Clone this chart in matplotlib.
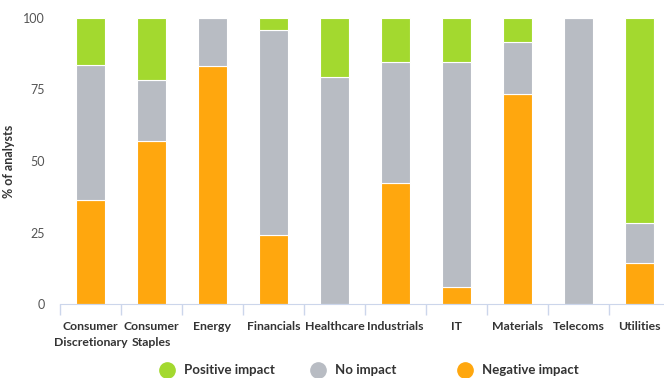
import numpy as np
import matplotlib.pyplot as plt
from matplotlib.lines import Line2D

# sector data (% of analysts)
sectors = ['Consumer\nDiscretionary', 'Consumer\nStaples', 'Energy', 'Financials', 'Healthcare',
           'Industrials', 'IT', 'Materials', 'Telecoms', 'Utilities']
negative = [36.4, 57.1, 83.3, 24.0, 0.0, 42.3, 6.0, 73.3, 0.0, 14.3]
no_impact = [47.0, 21.3, 16.7, 71.8, 79.4, 42.3, 78.6, 18.3, 100.0, 14.0]
positive = [16.6, 21.6, 0.0, 4.2, 20.6, 15.4, 15.4, 8.4, 0.0, 71.7]
legend_labels = ['Positive impact', 'No impact', 'Negative impact']

c_pos = '#a3d92f'
c_no = '#b8bcc3'
c_neg = '#ffa70e'

plt.rcParams['font.family'] = ['Lato', 'DejaVu Sans']

fig = plt.figure(figsize=(6.64, 3.78), dpi=100)
ax = fig.add_axes([60 / 664, 1 - 304 / 378, 610 / 664, 286 / 378])

x = np.arange(len(sectors))
neg = np.array(negative)
no = np.array(no_impact)
pos = np.array(positive)
w = 0.47
ax.bar(x, neg, w, color=c_neg, edgecolor='white', linewidth=0.8)
ax.bar(x, no, w, bottom=neg, color=c_no, edgecolor='white', linewidth=0.8)
ax.bar(x, pos, w, bottom=neg + no, color=c_pos, edgecolor='white', linewidth=0.8)

ax.set_xlim(-0.5, len(sectors) - 0.5)
ax.set_ylim(0, 100)
ax.set_yticks([0, 25, 50, 75, 100])
ax.tick_params(axis='y', length=0, pad=11, labelsize=9, labelcolor='#555555')
ax.set_ylabel('% of analysts', fontsize=9, fontweight='bold', color='#333333', labelpad=6)

ax.set_xticks(x)
ax.set_xticklabels(sectors, fontsize=8.8, fontweight='bold', color='#333333', linespacing=1.6)
ax.set_xticks(np.arange(len(sectors) + 1) - 0.5, minor=True)
ax.tick_params(axis='x', which='major', length=0, pad=12)
ax.tick_params(axis='x', which='minor', length=8, color='#ccd6eb', width=1)

for s in ['top', 'right', 'left']:
    ax.spines[s].set_visible(False)
ax.spines['bottom'].set_color('#ccd6eb')

# legend entries placed individually, like the reference
leg_x = [160 / 664, 311 / 664, 458 / 664]
for c, lab, lx in zip((c_pos, c_no, c_neg), legend_labels, leg_x):
    h = Line2D([], [], marker='o', ls='', markersize=11, color=c)
    fig.legend([h], [lab], loc='center left', bbox_to_anchor=(lx, 0.02), frameon=False,
               prop={'weight': 'bold', 'size': 9.5}, handlelength=1.0, handletextpad=0.8,
               borderpad=0, borderaxespad=0, labelcolor='#333333')

fig.savefig('out.png', dpi=100)
